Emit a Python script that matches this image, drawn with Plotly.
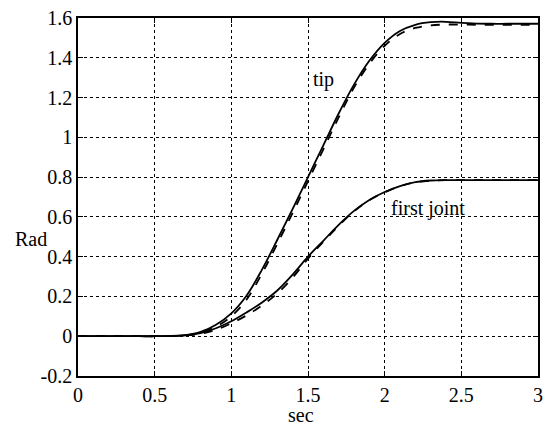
import plotly.graph_objects as go

t = [0.0, 0.1, 0.2, 0.3, 0.4, 0.5, 0.6, 0.7, 0.8, 0.9, 1.0, 1.1, 1.2, 1.3, 1.4, 1.5,
     1.6, 1.7, 1.8, 1.9, 2.0, 2.1, 2.2, 2.3, 2.4, 2.5, 2.6, 2.7, 2.8, 2.9, 3.0]

tip_actual = [0, 0, 0, 0, 0, 0, 0.001, 0.006, 0.022, 0.058, 0.115, 0.205, 0.335, 0.485, 0.64, 0.80,
              0.96, 1.12, 1.265, 1.385, 1.475, 1.535, 1.566, 1.579, 1.581, 1.575, 1.572, 1.571, 1.571, 1.571, 1.571]
tip_desired = [0, 0, 0, 0, 0, 0, 0.001, 0.004, 0.017, 0.048, 0.10, 0.185, 0.315, 0.465, 0.62, 0.78,
               0.94, 1.10, 1.25, 1.37, 1.46, 1.52, 1.55, 1.563, 1.567, 1.567, 1.566, 1.566, 1.566, 1.566, 1.566]
joint_actual = [0, 0, 0, 0, 0, 0, 0.001, 0.005, 0.016, 0.04, 0.075, 0.12, 0.17, 0.23, 0.31, 0.40,
                0.48, 0.56, 0.63, 0.685, 0.725, 0.755, 0.775, 0.783, 0.785, 0.785, 0.785, 0.785, 0.785, 0.785, 0.785]
joint_desired = [0, 0, 0, 0, 0, 0, 0.001, 0.004, 0.012, 0.032, 0.065, 0.105, 0.155, 0.215, 0.295, 0.39,
                 0.475, 0.555, 0.628, 0.684, 0.724, 0.754, 0.774, 0.782, 0.785, 0.785, 0.785, 0.785, 0.785, 0.785, 0.785]

x_ticks = [0, 0.5, 1, 1.5, 2, 2.5, 3]
x_labels = ["0", "0.5", "1", "1.5", "2", "2.5", "3"]
y_ticks = [-0.2, 0, 0.2, 0.4, 0.6, 0.8, 1.0, 1.2, 1.4, 1.6]
y_labels = ["-0.2", "0", "0.2", "0.4", "0.6", "0.8", "1", "1.2", "1.4", "1.6"]

FONT = "Liberation Serif"

fig = go.Figure()
for ys, dash in [(tip_desired, "dash"), (joint_desired, "dash"), (tip_actual, "solid"), (joint_actual, "solid")]:
    fig.add_trace(go.Scatter(x=t, y=ys, mode="lines", line=dict(color="black", width=1.8, dash=dash, shape="spline"),
                             showlegend=False, hoverinfo="skip"))

axis_common = dict(showline=True, linecolor="black", linewidth=1.5, mirror="ticks",
                   ticks="inside", ticklen=5, tickcolor="black", tickwidth=1,
                   showgrid=True, gridcolor="black", gridwidth=1, griddash="dot",
                   zeroline=False, ticklabeloverflow="allow",
                   tickfont=dict(family=FONT, size=20, color="black"))

fig.update_xaxes(range=[0, 3], tickvals=x_ticks, ticktext=x_labels, **axis_common)
fig.update_yaxes(range=[-0.2, 1.6], tickvals=y_ticks, ticktext=y_labels, **axis_common)

txt = dict(family=FONT, size=20, color="black")
fig.add_annotation(x=1.60, y=1.29, text="tip", showarrow=False, font=txt, xanchor="center", yanchor="middle")
fig.add_annotation(x=2.28, y=0.64, text="first joint", showarrow=False, font=txt, xanchor="center", yanchor="middle")
fig.add_annotation(xref="paper", yref="paper", x=-0.103, y=0.383, text="Rad", showarrow=False,
                   font=txt, xanchor="center", yanchor="middle")
fig.add_annotation(xref="paper", yref="paper", x=0.484, y=-0.108, text="sec", showarrow=False,
                   font=txt, xanchor="center", yanchor="middle")

fig.update_layout(width=550, height=428, margin=dict(l=78, r=7, t=13, b=52),
                  plot_bgcolor="white", paper_bgcolor="white")

# remove the browser's default 8px body margin so the figure fills the window exactly
fig.write_html("out.html", config={"displayModeBar": False},
               post_script="document.body.style.margin='0';")
